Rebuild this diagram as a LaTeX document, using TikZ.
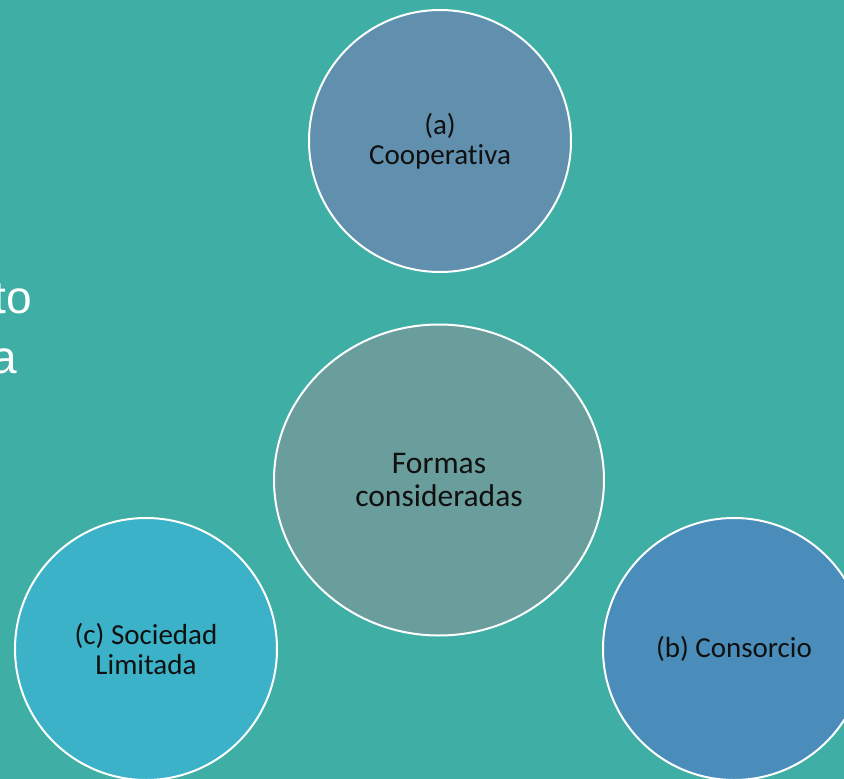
\documentclass[tikz,border=0pt]{standalone}
\usepackage{fontspec}
\setmainfont{Carlito}[Ligatures=NoCommon]
\newfontfamily\slidefont{Liberation Sans}
\usetikzlibrary{shapes.geometric}

\definecolor{fondo}{HTML}{3FAFA5}
\definecolor{colA}{HTML}{6090AE}
\definecolor{colB}{HTML}{4A8DBA}
\definecolor{colC}{HTML}{3BB2C8}
\definecolor{colCentro}{HTML}{6A9E9C}
\definecolor{texto}{HTML}{101010}

\tikzset{
	forma/.style={circle, draw=white, line width=2pt, minimum size=262pt, inner sep=0pt,
		align=center, text=texto, font=\fontsize{29}{30.5}\selectfont},
	centro/.style={ellipse, draw=white, line width=2pt, minimum width=330pt, minimum height=311pt,
		inner sep=0pt, align=center, text=texto, font=\fontsize{31.5}{33}\selectfont, fill=colCentro},
	diapo/.style={text=white, font=\slidefont\fontsize{46}{60}\selectfont, inner sep=0pt}
}

\begin{document}
\begin{tikzpicture}[x=1pt, y=-1pt]
		% fondo
		\useasboundingbox ( 0, 0 ) rectangle ( 844, 779 );
		\clip ( 0, 0 ) rectangle ( 844, 779 );
		\fill [fondo] ( 0, 0 ) rectangle ( 844, 779 );

		% texto de la diapositiva
		\node [diapo, anchor=base east] (lineaUno) at ( 32, 313 ) {to};
		\node [diapo, anchor=base east] (lineaDos) at ( 17, 373 ) {a};

		% circulo central
		\node [centro] (centro) at ( 439, 480 ) {Formas\\consideradas};

		% (a)
		\node [forma, fill=colA] (coop) at ( 440, 141 ) {(a)\\Cooperativa};

		% (b)
		\node [forma, fill=colB] (consorcio) at ( 734, 649 ) {(b) Consorcio};

		% (c)
		\node [forma, fill=colC] (sociedad) at ( 146, 649 ) {(c) Sociedad\\Limitada};
	\end{tikzpicture}
\end{document}
